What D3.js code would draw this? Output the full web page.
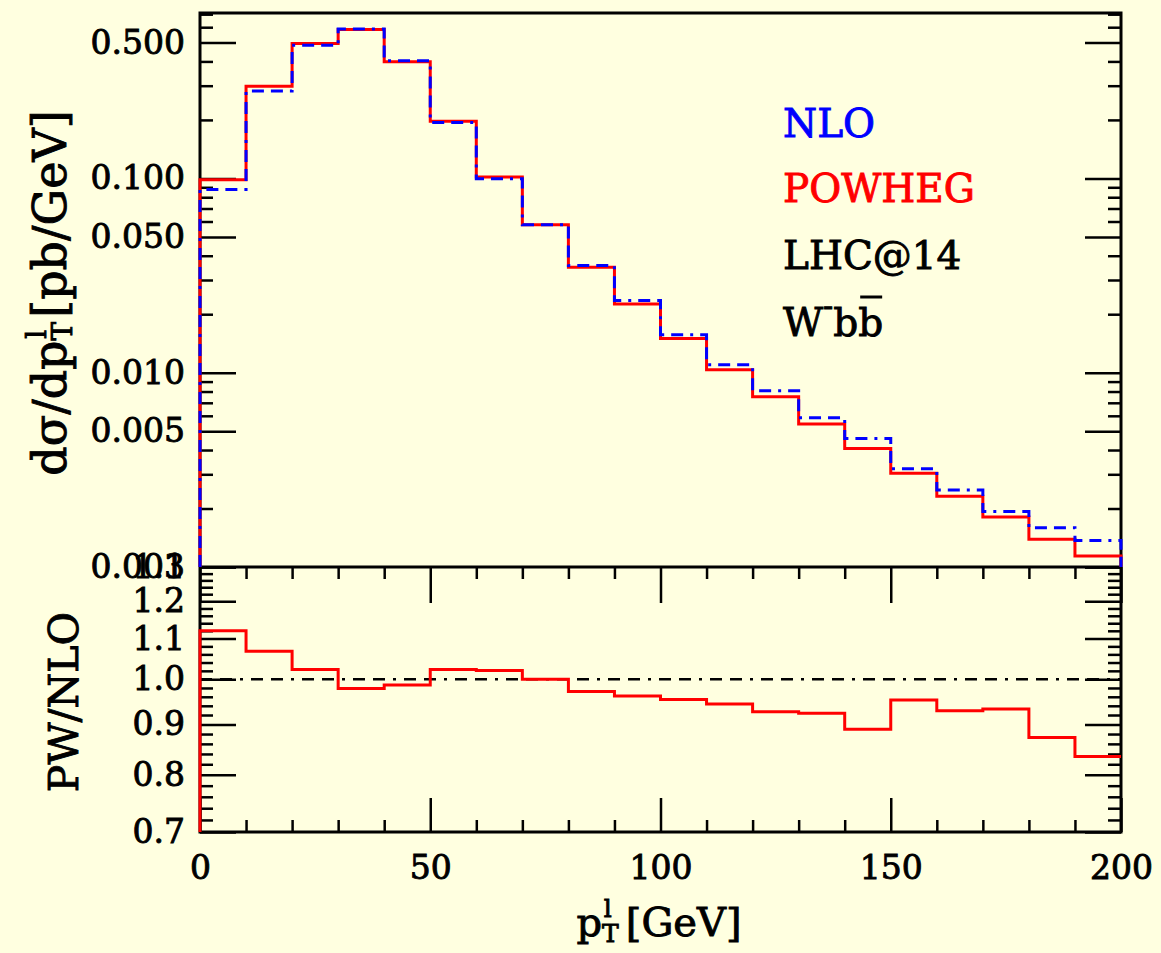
<!DOCTYPE html>
<html><head><meta charset="utf-8">
<script src="https://cdn.jsdelivr.net/npm/d3@7"></script>
<style>
html,body{margin:0;padding:0;background:#ffffe0;}
svg{display:block;}
text{font-family:"DejaVu Serif",serif;white-space:pre;stroke-width:0.9px;}
</style></head><body>
<svg id="chart" width="1161" height="953"></svg>
<script>
// ---- data ----
const binEdges = [0,10,20,30,40,50,60,70,80,90,100,110,120,130,140,150,160,170,180,190,200];
const nloValues = [0.0878,0.282,0.485,0.588,0.403,0.1937,0.0995,0.0577,0.0356,0.0235,0.0157,0.0110,0.00808,0.00586,0.00459,0.00320,0.00249,0.00193,0.00159,0.00137];
const powhegValues = [0.0985,0.298,0.495,0.584,0.398,0.1967,0.1016,0.0577,0.0349,0.0226,0.0150,0.01036,0.00752,0.00544,0.00407,0.00304,0.00231,0.00181,0.00139,0.00114];
const ratioValues = [1.12,1.068,1.023,0.979,0.987,1.023,1.021,1.0,0.972,0.962,0.954,0.944,0.927,0.924,0.890,0.953,0.929,0.933,0.873,0.835];
const upperTicks = [0.5,0.1,0.05,0.01,0.005,0.001];
const upperTickLabels = ["0.500","0.100","0.050","0.010","0.005","0.001"];
const lowerTicks = [0.7,0.8,0.9,1.0,1.1,1.2,1.3];
const lowerTickLabels = ["0.7","0.8","0.9","1.0","1.1","1.2","1.3"];
const xTicks = [0,50,100,150,200];
const xTickLabels = ["0","50","100","150","200"];
const legendLabels = ["NLO","POWHEG","LHC@14"];
const legendColors = ["#0000ff","#ff0000","#000000"];

// ---- layout ----
const L = 200, R = 1121, T = 13, M = 567, B = 832;
const svg = d3.select("#chart");
svg.append("rect").attr("width",1161).attr("height",953).attr("fill","#ffffe0");

const x = d3.scaleLinear().domain([0,200]).range([L,R]);
const yTop = d3.scaleLog().domain([0.001,0.71]).range([M,T]);
const yBot = d3.scaleLog().domain([0.7,1.3]).range([B,M]);

// minor tick values
const upperMinor = [];
[0.001,0.01,0.1].forEach(dec => { for (let k=2;k<=9;k++){ const v=+(k*dec).toPrecision(3); if (v<=0.71 && k!==5) upperMinor.push(v);} });
const lowerMinor = d3.range(0.72,1.29,0.02).map(v=>+v.toFixed(2)).filter(v=>Math.abs(v*10-Math.round(v*10))>1e-6);
const xMinor = d3.range(10,200,10).filter(v=>v%50!==0);

function styleAxis(g, sw){
  g.select(".domain").remove();
  g.selectAll(".tick line").attr("stroke","#000").attr("stroke-width",sw);
}
function styleLabels(g, fs){
  g.selectAll("text").attr("font-size",fs).attr("font-family",null).style("fill","#000").style("stroke","#000");
}
const fontTick = 33;

// frames (drawn first so histogram edges show on top)
svg.append("path").attr("d",`M${L},${M}V${T}H${R}V${B}H${L}Z M${L},${M}H${R}`)
  .attr("fill","none").attr("stroke","#000").attr("stroke-width",3);

// upper y axes
svg.append("g").attr("transform",`translate(${L},0)`)
  .call(d3.axisLeft(yTop).tickValues(upperMinor).tickSize(-13).tickFormat(""))
  .call(g=>styleAxis(g,2.5));
svg.append("g").attr("transform",`translate(${L},0)`)
  .call(d3.axisLeft(yTop).tickValues(upperTicks).tickSize(-36).tickPadding(15)
        .tickFormat((d,i)=>upperTickLabels[i]))
  .call(g=>{styleAxis(g,2.5); styleLabels(g,fontTick);});
svg.append("g").attr("transform",`translate(${R},0)`)
  .call(d3.axisRight(yTop).tickValues(upperMinor).tickSize(-13).tickFormat(""))
  .call(g=>styleAxis(g,2.5));
svg.append("g").attr("transform",`translate(${R},0)`)
  .call(d3.axisRight(yTop).tickValues(upperTicks).tickSize(-36).tickFormat(""))
  .call(g=>styleAxis(g,2.5));

// lower y axes
svg.append("g").attr("transform",`translate(${L},0)`)
  .call(d3.axisLeft(yBot).tickValues(lowerMinor).tickSize(-13).tickFormat(""))
  .call(g=>styleAxis(g,2.5));
svg.append("g").attr("transform",`translate(${L},0)`)
  .call(d3.axisLeft(yBot).tickValues(lowerTicks).tickSize(-36).tickPadding(15)
        .tickFormat((d,i)=>lowerTickLabels[i]))
  .call(g=>{styleAxis(g,2.5); styleLabels(g,fontTick);});
svg.append("g").attr("transform",`translate(${R},0)`)
  .call(d3.axisRight(yBot).tickValues(lowerMinor).tickSize(-13).tickFormat(""))
  .call(g=>styleAxis(g,2.5));
svg.append("g").attr("transform",`translate(${R},0)`)
  .call(d3.axisRight(yBot).tickValues(lowerTicks).tickSize(-36).tickFormat(""))
  .call(g=>styleAxis(g,2.5));

// x axes (lower panel: top edge ticks down, bottom edge ticks up)
svg.append("g").attr("transform",`translate(0,${M})`)
  .call(d3.axisTop(x).tickValues(xMinor).tickSize(-12).tickFormat(""))
  .call(g=>styleAxis(g,2.5));
svg.append("g").attr("transform",`translate(0,${M})`)
  .call(d3.axisTop(x).tickValues(xTicks).tickSize(-36).tickFormat(""))
  .call(g=>styleAxis(g,2.5));
svg.append("g").attr("transform",`translate(0,${B})`)
  .call(d3.axisBottom(x).tickValues(xMinor).tickSize(-12).tickFormat(""))
  .call(g=>styleAxis(g,2.5));
svg.append("g").attr("transform",`translate(0,${B})`)
  .call(d3.axisBottom(x).tickValues(xTicks).tickSize(-34).tickPadding(24)
        .tickFormat((d,i)=>xTickLabels[i]))
  .call(g=>{styleAxis(g,2.5); styleLabels(g,fontTick);});

// histograms
function histPoints(vals, startFloor, endFloor){
  const pts = [];
  if (startFloor !== null) pts.push([binEdges[0], startFloor]);
  vals.forEach((v,i)=>{ pts.push([binEdges[i],v]); pts.push([binEdges[i+1],v]); });
  if (endFloor !== null) pts.push([binEdges[binEdges.length-1], endFloor]);
  return pts;
}
const lineTop = d3.line().x(d=>x(d[0])).y(d=>yTop(d[1]));
const lineBot = d3.line().x(d=>x(d[0])).y(d=>yBot(d[1]));
const dash = "12,7,12,7,3,7";

svg.append("path").attr("d", lineTop(histPoints(powhegValues, yTop.domain()[0], yTop.domain()[0])))
  .attr("fill","none").attr("stroke","#ff0000").attr("stroke-width",3);
svg.append("path").attr("d", lineTop(histPoints(nloValues, yTop.domain()[0], yTop.domain()[0])))
  .attr("fill","none").attr("stroke","#0000ff").attr("stroke-width",3).attr("stroke-dasharray",dash);

// ratio reference line
svg.append("path").attr("d", lineBot([[0,1],[200,1]]))
  .attr("fill","none").attr("stroke","#000").attr("stroke-width",2.5).attr("stroke-dasharray","12,8,12,8,3,8");
svg.append("path").attr("d", lineBot(histPoints(ratioValues, yBot.domain()[0], null)))
  .attr("fill","none").attr("stroke","#ff0000").attr("stroke-width",3);

// legend
const legFont = 39;
const legY = [137,202,269];
legendLabels.forEach((t,i)=>{
  svg.append("text").attr("x",783).attr("y",legY[i]).attr("font-size",legFont)
    .style("fill",legendColors[i]).style("stroke",legendColors[i]).text(t);
});
const wbb = svg.append("text").attr("x",783).attr("y",336).attr("font-size",legFont)
  .style("fill","#000").style("stroke","#000");
wbb.append("tspan").text("W");
wbb.append("tspan").attr("font-size",30).attr("dy",-20).text("-");
wbb.append("tspan").attr("dy",20).text("bb");
{
  const node = wbb.node();
  const n = node.getNumberOfChars();
  const s = node.getStartPositionOfChar(n-1).x, e = node.getEndPositionOfChar(n-1).x;
  svg.append("line").attr("x1",s+2).attr("x2",e-1).attr("y1",297).attr("y2",297)
    .attr("stroke","#000").attr("stroke-width",3);
}

// axis titles
const yt = svg.append("text").attr("transform","translate(66,293) rotate(-90)")
  .attr("text-anchor","middle").attr("font-size",46).style("fill","#000").style("stroke","#000");
yt.append("tspan").text("dσ/dp");
yt.append("tspan").attr("font-size",28).attr("dy",6).text("T");
yt.append("tspan").attr("font-size",28).attr("dx",-17).attr("dy",-26).text("l");
yt.append("tspan").attr("dx",12).attr("dy",20).text("[pb/GeV]");

svg.append("text").attr("transform","translate(78,702) rotate(-90)")
  .attr("text-anchor","middle").attr("font-size",41).style("fill","#000").style("stroke","#000").text("PW/NLO");

const xt = svg.append("text").attr("x",659).attr("y",936).attr("text-anchor","middle").attr("font-size",40)
  .style("fill","#000").style("stroke","#000");
xt.append("tspan").text("p");
xt.append("tspan").attr("font-size",25).attr("dy",6).text("T");
xt.append("tspan").attr("font-size",25).attr("dx",-15).attr("dy",-25).text("l");
xt.append("tspan").attr("dx",14).attr("dy",19).text("[GeV]");
</script>
</body></html>
